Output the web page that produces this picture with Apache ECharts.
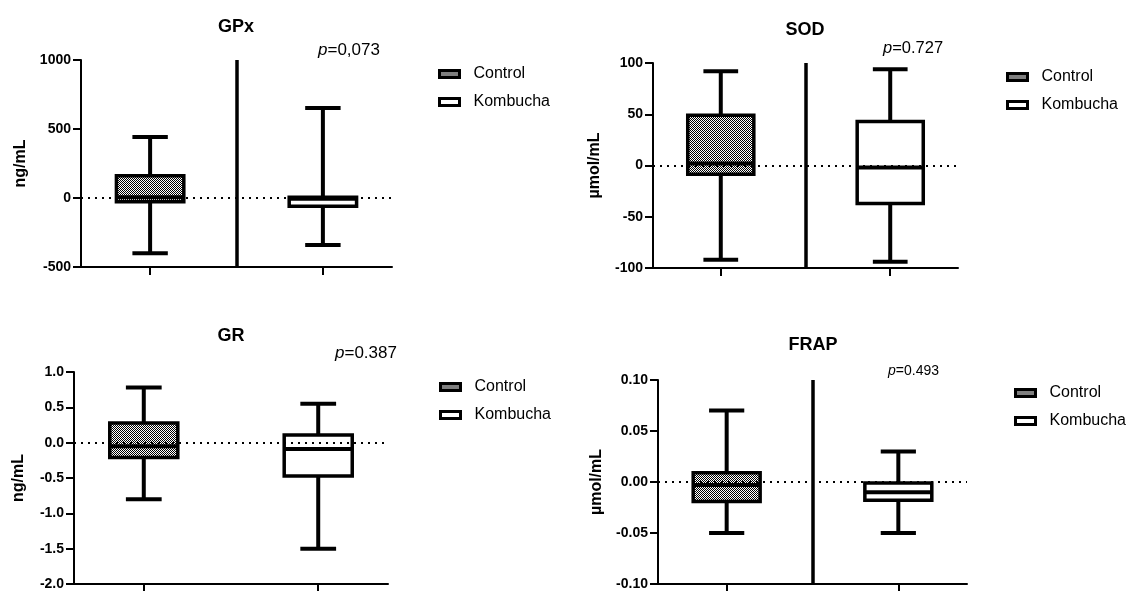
<!DOCTYPE html>
<html>
<head>
<meta charset="utf-8">
<title>GPx SOD GR FRAP</title>
<script src="https://cdn.jsdelivr.net/npm/echarts@6/dist/echarts.min.js"></script>
<style>
html,body{margin:0;padding:0;background:#fff}
#main{width:1133px;height:591px}
</style>
</head>
<body>
<div id="main"></div>
<script>
// grupos
var groups = ['Control', 'Kombucha'];
var groupPos = [1, 2];

// [min, Q1, mediana, Q3, max]
var gpxControl = [-400, -27, 5, 162, 442];
var gpxKombucha = [-340, -60, -5, 5, 652];
var sodControl = [-92, -8.5, 2, 49, 92];
var sodKombucha = [-94, -37, -2, 43, 94];
var grControl = [-0.80, -0.21, -0.05, 0.28, 0.78];
var grKombucha = [-1.50, -0.47, -0.09, 0.11, 0.55];
var frapControl = [-0.05, -0.019, -0.003, 0.009, 0.07];
var frapKombucha = [-0.05, -0.018, -0.010, -0.001, 0.03];

// ticks eje y
var gpxTicks = [-500, 0, 500, 1000];
var sodTicks = [-100, -50, 0, 50, 100];
var grTicks = [-2.0, -1.5, -1.0, -0.5, 0.0, 0.5, 1.0];
var frapTicks = [-0.10, -0.05, 0.00, 0.05, 0.10];

var titles = ['GPx', 'SOD', 'GR', 'FRAP'];
var units = ['ng/mL', 'µmol/mL', 'ng/mL', 'µmol/mL'];
var pValues = ['0,073', '0.727', '0.387', '0.493'];

var FONT = '"Liberation Sans", Arial, Helvetica, sans-serif';

// relleno cuadriculado del grupo control
var cv = document.createElement('canvas');
cv.width = 2; cv.height = 2;
var cx = cv.getContext('2d');
cx.fillStyle = '#fff'; cx.fillRect(0, 0, 2, 2);
cx.fillStyle = '#000'; cx.fillRect(0, 0, 1, 1); cx.fillRect(1, 1, 1, 1);
var checker = {image: cv, repeat: 'repeat'};
var fills = [checker, '#fff'];

var panels = [
    {grid: {left: 81, top: 60, width: 311, height: 207}, ticks: gpxTicks, dec: 0, data: [gpxControl, gpxKombucha],
     divider: true, nameGap: 52, title: [236, 27], p: [318, 50, 17], legend: [438, 65]},
    {grid: {left: 653, top: 63, width: 305, height: 205}, ticks: sodTicks, dec: 0, data: [sodControl, sodKombucha],
     divider: true, nameGap: 50, title: [805, 30], p: [883, 48, 16.5], legend: [1006, 68]},
    {grid: {left: 74, top: 372, width: 314, height: 212}, ticks: grTicks, dec: 1, data: [grControl, grKombucha],
     divider: false, nameGap: 47, title: [231, 336], p: [335, 353, 17], legend: [439, 378]},
    {grid: {left: 658, top: 380, width: 309, height: 205}, ticks: frapTicks, dec: 2, data: [frapControl, frapKombucha],
     divider: true, nameGap: 53, title: [813, 345], p: [888, 371, 14], legend: [1014, 384]}
];

function makeRender(fill){
    return function(params, api){
        var x = api.value(0);
        var lo = api.coord([x, api.value(1)]);
        var q1 = api.coord([x, api.value(2)]);
        var med = api.coord([x, api.value(3)]);
        var q3 = api.coord([x, api.value(4)]);
        var hi = api.coord([x, api.value(5)]);
        var boxW = api.size([0.39, 0])[0];
        var capW = api.size([0.205, 0])[0];
        var ln = {stroke: '#000', lineWidth: 4};
        return {
            type: 'group',
            children: [
                {type: 'line', shape: {x1: lo[0], y1: lo[1], x2: q1[0], y2: q1[1]}, style: ln},
                {type: 'line', shape: {x1: q3[0], y1: q3[1], x2: hi[0], y2: hi[1]}, style: ln},
                {type: 'line', shape: {x1: lo[0] - capW / 2, y1: lo[1], x2: lo[0] + capW / 2, y2: lo[1]}, style: ln},
                {type: 'line', shape: {x1: hi[0] - capW / 2, y1: hi[1], x2: hi[0] + capW / 2, y2: hi[1]}, style: ln},
                {type: 'rect', shape: {x: q1[0] - boxW / 2, y: q3[1], width: boxW, height: q1[1] - q3[1]},
                 style: {fill: fill, stroke: '#000', lineWidth: 3.5}},
                {type: 'line', shape: {x1: med[0] - boxW / 2, y1: med[1], x2: med[0] + boxW / 2, y2: med[1]}, style: ln}
            ]
        };
    };
}

var grids = [], xAxes = [], yAxes = [], series = [], legends = [], graphics = [];

for (var i = 0; i < panels.length; i++) {
    var pn = panels[i];
    grids.push(pn.grid);
    xAxes.push({
        type: 'value', gridIndex: i, min: 0.6, max: 2.4,
        axisLine: {show: true, onZero: false, lineStyle: {color: '#000', width: 2}},
        axisTick: {show: true, customValues: groupPos, length: 8, lineStyle: {color: '#000', width: 2}},
        axisLabel: {show: false},
        splitLine: {show: false}
    });
    (function(dec){
        yAxes.push({
            type: 'value', gridIndex: i,
            min: pn.ticks[0], max: pn.ticks[pn.ticks.length - 1],
            interval: pn.ticks[1] - pn.ticks[0],
            name: units[i], nameLocation: 'middle', nameGap: pn.nameGap,
            nameTextStyle: {fontFamily: FONT, fontSize: 16, fontWeight: 'bold', color: '#000'},
            axisLine: {show: true, onZero: false, lineStyle: {color: '#000', width: 2}},
            axisTick: {show: true, length: 8, lineStyle: {color: '#000', width: 2}},
            axisLabel: {
                fontFamily: FONT, fontSize: 14, fontWeight: 'bold', color: '#000', margin: 10,
                formatter: function(v){ return v.toFixed(dec); }
            },
            splitLine: {show: false}
        });
    })(pn.dec);

    for (var g = 0; g < groups.length; g++) {
        var s = {
            type: 'custom', name: groups[g],
            xAxisIndex: i, yAxisIndex: i,
            renderItem: makeRender(fills[g]),
            data: [[groupPos[g]].concat(pn.data[g])],
            itemStyle: {color: fills[g], borderColor: '#000', borderWidth: 3},
            silent: true,
            z: 2
        };
        if (g === 0) {
            var ml = [{yAxis: 0, lineStyle: {type: [2, 5], width: 2, color: '#000'}}];
            if (pn.divider) {
                ml.push({xAxis: 1.5, lineStyle: {type: 'solid', width: 3.5, color: '#000'}});
            }
            s.markLine = {silent: true, symbol: ['none', 'none'], label: {show: false}, data: ml, z: 3};
        }
        series.push(s);
    }

    legends.push({
        left: pn.legend[0], top: pn.legend[1], orient: 'vertical', padding: 0,
        icon: 'rect', itemWidth: 20, itemHeight: 7, itemGap: 10,
        selectedMode: false,
        textStyle: {fontFamily: FONT, fontSize: 16, color: '#000', lineHeight: 18, padding: [0, 0, 0, 9]},
        data: [
            {name: 'Control', itemStyle: {color: checker, borderColor: '#000', borderWidth: 3}},
            {name: 'Kombucha', itemStyle: {color: '#fff', borderColor: '#000', borderWidth: 3}}
        ]
    });

    graphics.push({
        type: 'text', x: pn.title[0], y: pn.title[1],
        style: {text: titles[i], fontFamily: FONT, fontSize: 18, fontWeight: 'bold', fill: '#000',
                align: 'center', verticalAlign: 'middle'}
    });
    graphics.push({
        type: 'text', x: pn.p[0], y: pn.p[1],
        style: {
            text: '{i|p}=' + pValues[i],
            fontFamily: FONT, fontSize: pn.p[2], fill: '#000', verticalAlign: 'middle',
            rich: {i: {fontStyle: 'italic', fontFamily: FONT, fontSize: pn.p[2], fill: '#000'}}
        }
    });
}

var myChart = echarts.init(document.getElementById('main'));
myChart.setOption({
    animation: false,
    backgroundColor: '#fff',
    grid: grids,
    xAxis: xAxes,
    yAxis: yAxes,
    legend: legends,
    graphic: graphics,
    series: series
});
</script>
</body>
</html>
